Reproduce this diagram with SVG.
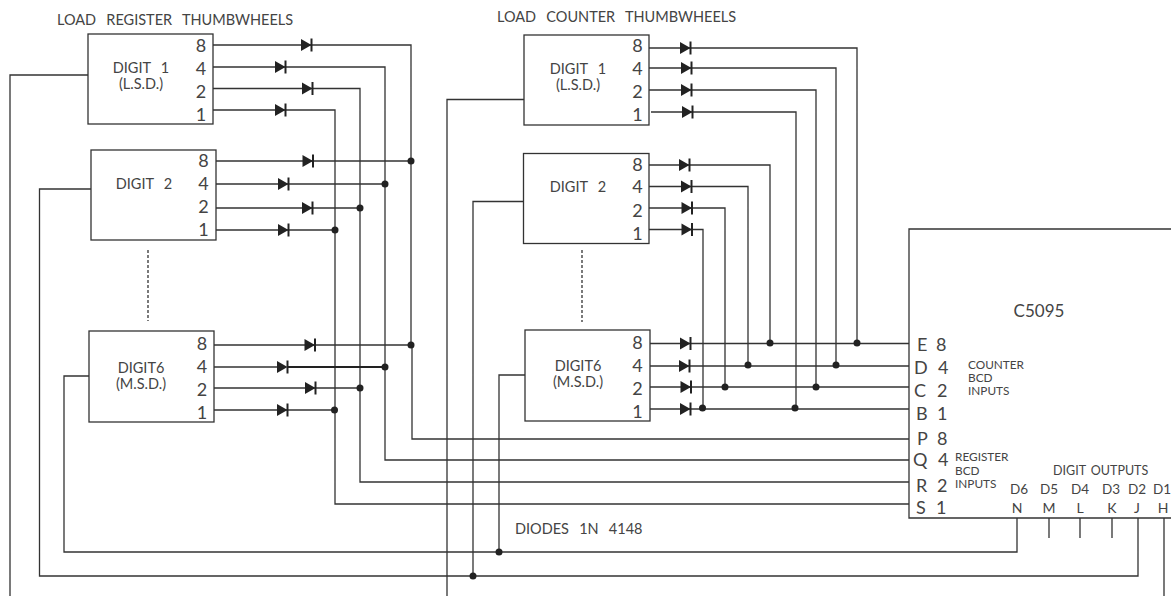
<svg xmlns="http://www.w3.org/2000/svg" width="1171" height="596" viewBox="0 0 1171 596">
<style>
text{font-family:Lato,"Open Sans","Liberation Sans",sans-serif;fill:#444;word-spacing:6.500px}
.box{fill:#fff;stroke:#333;stroke-width:1.3}
.w{fill:none;stroke:#333;stroke-width:1.3}
.n{font-size:18px;text-anchor:middle}
.t{font-size:14.500px}
.c{font-size:14.500px;text-anchor:middle}
.p{font-size:18px}
.s{font-size:11.800px;word-spacing:0}
.o{font-size:13.500px;word-spacing:2px}
.m{font-size:14px;text-anchor:middle}
</style>
<defs>
<g id="d"><path d="M0-6L10.500 0L0 6Z" fill="#222"/><path d="M10.500-6.500V6.500" stroke="#222" stroke-width="2" fill="none"/></g>
<circle id="j" r="3.500" fill="#222"/>
</defs>
<g id="connectors">
<path class="w" d="M213 45H411V345M213 67H385V367M213 88.500H360V388M213 110H335V410"/>
<path class="w" d="M216 161H411M216 184H385M216 208H360M216 230H335"/>
<path class="w" d="M214 345H411M214 367H277M214 388H360M214 410H335"/>
<path class="w" d="M287 367H385" style="stroke-width:2;stroke:#222"/>
<path class="w" d="M412 345V439H909M385 367V460H909M360 388V482H909M335 410V504H909"/>
<path class="w" d="M88 75H10V596M91 189H39.500V576H1138V518M89 376H64V552H1017V518"/>
<path class="w" d="M649 48H857V343M649 68H836V365M649 90H816V387M651 112H796V408"/>
<path class="w" d="M649 165H770V343M649 186.500H748V365M649 208H725V387M649 229.500H703V408"/>
<path class="w" d="M650 343.500H909M650 366H909M650 387H909M650 409H909"/>
<path class="w" d="M524 99.500H447V596M524 201.500H473V576M525 375H499V552"/>
<path class="w" d="M1049 518V538M1080 518V538M1112 518V538M1164 518V596"/>
<path class="w" d="M148 250V321M582 250V322" stroke-dasharray="3 2"/>
</g>
<g id="diodes">
<use href="#d" x="301" y="45"/><use href="#d" x="275" y="67"/><use href="#d" x="302" y="88.500"/><use href="#d" x="275" y="110"/>
<use href="#d" x="302.500" y="161"/><use href="#d" x="278" y="184"/><use href="#d" x="302" y="208"/><use href="#d" x="278" y="230"/>
<use href="#d" x="304.500" y="345"/><use href="#d" x="277" y="367"/><use href="#d" x="305" y="388"/><use href="#d" x="277" y="410"/>
<use href="#d" x="680" y="48"/><use href="#d" x="681" y="68"/><use href="#d" x="681" y="90"/><use href="#d" x="682" y="112"/>
<use href="#d" x="679" y="165"/><use href="#d" x="681" y="186.500"/><use href="#d" x="681.500" y="208"/><use href="#d" x="681.500" y="229.500"/>
<use href="#d" x="680" y="343.500"/><use href="#d" x="679" y="366"/><use href="#d" x="680.500" y="387"/><use href="#d" x="680" y="409"/>
</g>
<g id="junctions">
<use href="#j" x="411" y="161"/><use href="#j" x="385" y="184"/><use href="#j" x="360" y="208"/><use href="#j" x="335" y="230"/>
<use href="#j" x="411" y="345"/><use href="#j" x="385" y="367"/><use href="#j" x="360" y="388"/><use href="#j" x="334.500" y="410"/>
<use href="#j" x="770" y="343"/><use href="#j" x="857" y="343"/><use href="#j" x="748" y="365"/><use href="#j" x="836" y="365"/>
<use href="#j" x="725" y="387"/><use href="#j" x="816" y="387"/><use href="#j" x="702.500" y="408"/><use href="#j" x="795" y="408"/>
<use href="#j" x="499" y="552"/><use href="#j" x="473" y="576"/>
</g>
<g id="register-digit-1"><rect class="box" x="88" y="34" width="125" height="90"/>
<text class="c" x="141" y="73">DIGIT 1</text><text class="c" x="141" y="89">(L.S.D.)</text>
<text class="n" x="201" y="52">8</text><text class="n" x="201" y="75">4</text><text class="n" x="201" y="98">2</text><text class="n" x="201" y="121">1</text></g>
<g id="register-digit-2"><rect class="box" x="91" y="150" width="125" height="90"/>
<text class="c" x="144" y="189">DIGIT 2</text>
<text class="n" x="203.500" y="167">8</text><text class="n" x="203.500" y="190">4</text><text class="n" x="203.500" y="213">2</text><text class="n" x="203.500" y="236">1</text></g>
<g id="register-digit-6"><rect class="box" x="89" y="331" width="125" height="91"/>
<text class="c" x="141" y="373">DIGIT6</text><text class="c" x="141" y="389">(M.S.D.)</text>
<text class="n" x="202" y="350">8</text><text class="n" x="202" y="373">4</text><text class="n" x="202" y="396">2</text><text class="n" x="202" y="419">1</text></g>
<g id="counter-digit-1"><rect class="box" x="524" y="35" width="125" height="90"/>
<text class="c" x="578" y="74">DIGIT 1</text><text class="c" x="578" y="90">(L.S.D.)</text>
<text class="n" x="637.500" y="52">8</text><text class="n" x="637.500" y="75">4</text><text class="n" x="637.500" y="98">2</text><text class="n" x="637.500" y="121">1</text></g>
<g id="counter-digit-2"><rect class="box" x="523.500" y="153.500" width="125.500" height="90"/>
<text class="c" x="578" y="192">DIGIT 2</text>
<text class="n" x="637.500" y="171">8</text><text class="n" x="637.500" y="193">4</text><text class="n" x="637.500" y="217">2</text><text class="n" x="637.500" y="240">1</text></g>
<g id="counter-digit-6"><rect class="box" x="525" y="330" width="125" height="91"/>
<text class="c" x="578" y="371">DIGIT6</text><text class="c" x="578" y="387">(M.S.D.)</text>
<text class="n" x="637.500" y="349">8</text><text class="n" x="637.500" y="372">4</text><text class="n" x="637.500" y="395">2</text><text class="n" x="637.500" y="418">1</text></g>
<g id="c5095"><path class="w" d="M1171 229H909V518H1171"/>
<text x="1039" y="317" font-size="17" text-anchor="middle">C5095</text>
<text class="p" x="917" y="351">E</text><text class="p" x="936" y="351">8</text>
<text class="p" x="914" y="374">D</text><text class="p" x="938" y="374">4</text>
<text class="p" x="914" y="397">C</text><text class="p" x="937" y="397">2</text>
<text class="p" x="916" y="420">B</text><text class="p" x="937" y="420">1</text>
<text class="p" x="917" y="445">P</text><text class="p" x="937" y="445">8</text>
<text class="p" x="913" y="466">Q</text><text class="p" x="938" y="466">4</text>
<text class="p" x="916" y="492">R</text><text class="p" x="937" y="492">2</text>
<text class="p" x="916" y="514">S</text><text class="p" x="936" y="514">1</text>
<text class="s" x="968" y="369">COUNTER</text><text class="s" x="968" y="382">BCD</text><text class="s" x="968" y="395">INPUTS</text>
<text class="s" x="955" y="461">REGISTER</text><text class="s" x="955" y="475">BCD</text><text class="s" x="955" y="488">INPUTS</text>
<text class="o" x="1053" y="475" style="font-size:12.500px">DIGIT OUTPUTS</text>
<text class="o" x="1010" y="494">D6</text><text class="o" x="1040" y="494">D5</text><text class="o" x="1071" y="494">D4</text><text class="o" x="1102" y="494">D3</text><text class="o" x="1128" y="494">D2</text><text class="o" x="1153" y="494">D1</text>
<text class="m" x="1017" y="513">N</text><text class="m" x="1049" y="513">M</text><text class="m" x="1080" y="513">L</text><text class="m" x="1112" y="513">K</text><text class="m" x="1137" y="513">J</text><text class="m" x="1163" y="513">H</text>
</g>
<g id="labels">
<text class="t" x="57" y="25">LOAD REGISTER THUMBWHEELS</text>
<text class="t" x="497" y="22">LOAD COUNTER THUMBWHEELS</text>
<text class="t" x="515" y="534">DIODES 1N 4148</text>
</g>
</svg>
